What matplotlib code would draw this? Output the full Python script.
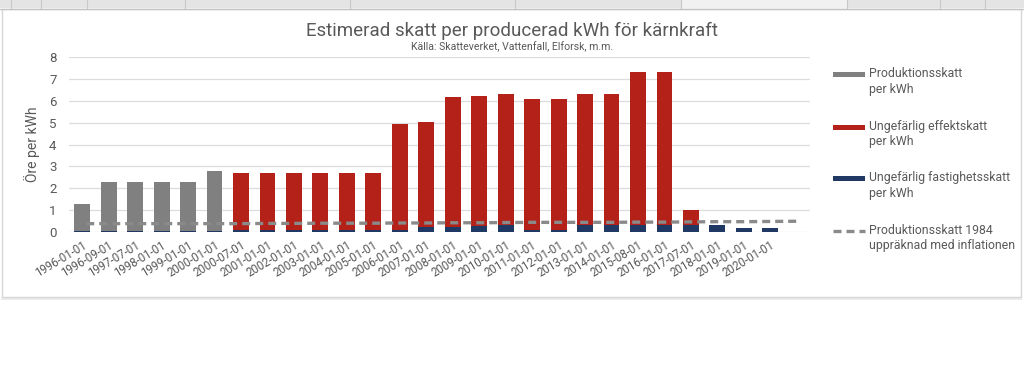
import matplotlib
matplotlib.use("Agg")
import matplotlib.pyplot as plt
from matplotlib.patches import Rectangle
from matplotlib.lines import Line2D

# ---------------- data ----------------
categories = ["1996-01-01", "1996-09-01", "1997-07-01", "1998-01-01", "1999-01-01",
              "2000-01-01", "2000-07-01", "2001-01-01", "2002-01-01", "2003-01-01",
              "2004-01-01", "2005-01-01", "2006-01-01", "2007-01-01", "2008-01-01",
              "2009-01-01", "2010-01-01", "2011-01-01", "2012-01-01", "2013-01-01",
              "2014-01-01", "2015-08-01", "2016-01-01", "2017-07-01", "2018-01-01",
              "2019-01-01", "2020-01-01", ""]

fastighetsskatt = [0.05, 0.05, 0.05, 0.05, 0.05, 0.05, 0.07, 0.07, 0.07, 0.07,
                   0.07, 0.07, 0.08, 0.20, 0.20, 0.28, 0.32, 0.08, 0.08, 0.30,
                   0.30, 0.30, 0.30, 0.30, 0.30, 0.15, 0.15, 0.0]

produktionsskatt = [1.23, 2.23, 2.23, 2.23, 2.23, 2.73, 0, 0, 0, 0,
                    0, 0, 0, 0, 0, 0, 0, 0, 0, 0,
                    0, 0, 0, 0, 0, 0, 0, 0]

effektskatt = [0, 0, 0, 0, 0, 0, 2.64, 2.64, 2.64, 2.64,
               2.64, 2.64, 4.86, 4.83, 5.99, 5.96, 5.98, 6.01, 6.01, 6.00,
               6.00, 7.01, 7.01, 0.71, 0, 0, 0, 0]

produktionsskatt_1984 = [0.37, 0.37, 0.37, 0.37, 0.37, 0.37, 0.37, 0.38, 0.38, 0.39,
                         0.39, 0.39, 0.40, 0.40, 0.41, 0.41, 0.42, 0.43, 0.43, 0.43,
                         0.43, 0.44, 0.44, 0.45, 0.46, 0.46, 0.47, 0.48]

series_labels = ["Produktionsskatt\nper kWh",
                 "Ungefärlig effektskatt\nper kWh",
                 "Ungefärlig fastighetsskatt\nper kWh",
                 "Produktionsskatt 1984\nuppräknad med inflationen"]

title = "Estimerad skatt per producerad kWh för kärnkraft"
subtitle = "Källa: Skatteverket, Vattenfall, Elforsk, m.m."
ylabel = "Öre per kWh"

# ---------------- style ----------------
plt.rcParams["font.family"] = ["Roboto", "DejaVu Sans"]
GRAY = "#808080"
RED = "#b32118"
BLUE = "#1f3864"
TXT = "#595959"
W, H = 1024, 372

fig = plt.figure(figsize=(W / 100, H / 100), dpi=100)
fig.patch.set_facecolor("white")

def fx(px):
    return px / W

def fy(py):
    return 1 - py / H

# screenshot decorations: spreadsheet header strip and chart frame
fig.patches.append(Rectangle((0, fy(8)), 1, 8 / H, transform=fig.transFigure,
                             facecolor="#e4e4e4", edgecolor="none", zorder=-5))
fig.patches.append(Rectangle((fx(681), fy(8)), fx(847 - 681), 8 / H, transform=fig.transFigure,
                             facecolor="#f1f1f1", edgecolor="none", zorder=-5))
for xd in [11, 41, 87, 185, 350, 515, 681, 847, 940, 985]:
    fig.lines.append(Line2D([fx(xd), fx(xd)], [fy(0), fy(8)], transform=fig.transFigure,
                            color="#c9c9c9", lw=0.8, zorder=-4))
fig.lines.append(Line2D([0, 1], [fy(8.5), fy(8.5)], transform=fig.transFigure,
                        color="#c4c4c4", lw=1.0, zorder=-4))
fig.patches.append(Rectangle((fx(1.5), fy(297)), fx(1019.5), (297 - 9) / H, transform=fig.transFigure,
                             facecolor="white", edgecolor="#d6d6d6", lw=1.0, zorder=-5))
fig.lines.append(Line2D([fx(2), fx(1021)], [fy(299), fy(299)], transform=fig.transFigure,
                        color="#ececec", lw=1.5, zorder=-5))

ax = fig.add_axes([fx(69), fy(231.7), fx(810 - 69), (231.7 - 57.3) / H])
ax.set_zorder(2)
ax.set_facecolor("none")
x = list(range(len(categories)))
bw = 0.6

b_blue = ax.bar(x, fastighetsskatt, width=bw, color=BLUE, zorder=2)
b_gray = ax.bar(x, produktionsskatt, width=bw, bottom=fastighetsskatt, color=GRAY, zorder=2)
bottom2 = [a + b for a, b in zip(fastighetsskatt, produktionsskatt)]
b_red = ax.bar(x, effektskatt, width=bw, bottom=bottom2, color=RED, zorder=2)
ln, = ax.plot(x, produktionsskatt_1984, color="#8a8a8a", lw=2.4,
              linestyle=(2.7, (2.4, 1.5)), zorder=3)

ax.set_xlim(-0.5, len(categories) - 0.5)
ax.set_ylim(0, 8)
ax.set_yticks(range(0, 9))
ax.yaxis.grid(True, color="#dcdcdc", lw=0.9, zorder=0)
ax.set_axisbelow(True)
for s in ax.spines.values():
    s.set_visible(False)
ax.tick_params(axis="both", length=0, colors=TXT)
ax.tick_params(axis="y", labelsize=9.5, pad=9)
ax.set_xticks(x)
ax.set_xticklabels(categories, rotation=31, ha="right", va="top",
                   rotation_mode="anchor", fontsize=8.3, color=TXT)
ax.tick_params(axis="x", pad=5)
ax.set_ylabel(ylabel, fontsize=10, color=TXT)
ax.yaxis.set_label_coords(-0.039, 0.5)

fig.text(0.5, fy(31), title, ha="center", va="center", fontsize=13.5, color=TXT)
fig.text(0.5, fy(47), subtitle, ha="center", va="center", fontsize=7.6, color=TXT)

# legend (manual, right side)
leg_y = [74, 127, 178, 231]
leg_handles = [("patch", GRAY), ("patch", RED), ("patch", BLUE), ("line", "#8a8a8a")]
for (kind, col), yy, lab in zip(leg_handles, leg_y, series_labels):
    if kind == "patch":
        fig.patches.append(Rectangle((fx(833), fy(yy + 2.5)), fx(32), 5 / H,
                                     transform=fig.transFigure, facecolor=col,
                                     edgecolor="none"))
    else:
        fig.lines.append(Line2D([fx(833), fx(865)], [fy(yy), fy(yy)], transform=fig.transFigure,
                                color=col, lw=2.4, linestyle=(0, (2.4, 1.5))))
    fig.text(fx(869), fy(yy - 7), lab, ha="left", va="top", fontsize=8.8,
             color=TXT, linespacing=1.25)

fig.savefig("out.png", dpi=100, facecolor="white")
